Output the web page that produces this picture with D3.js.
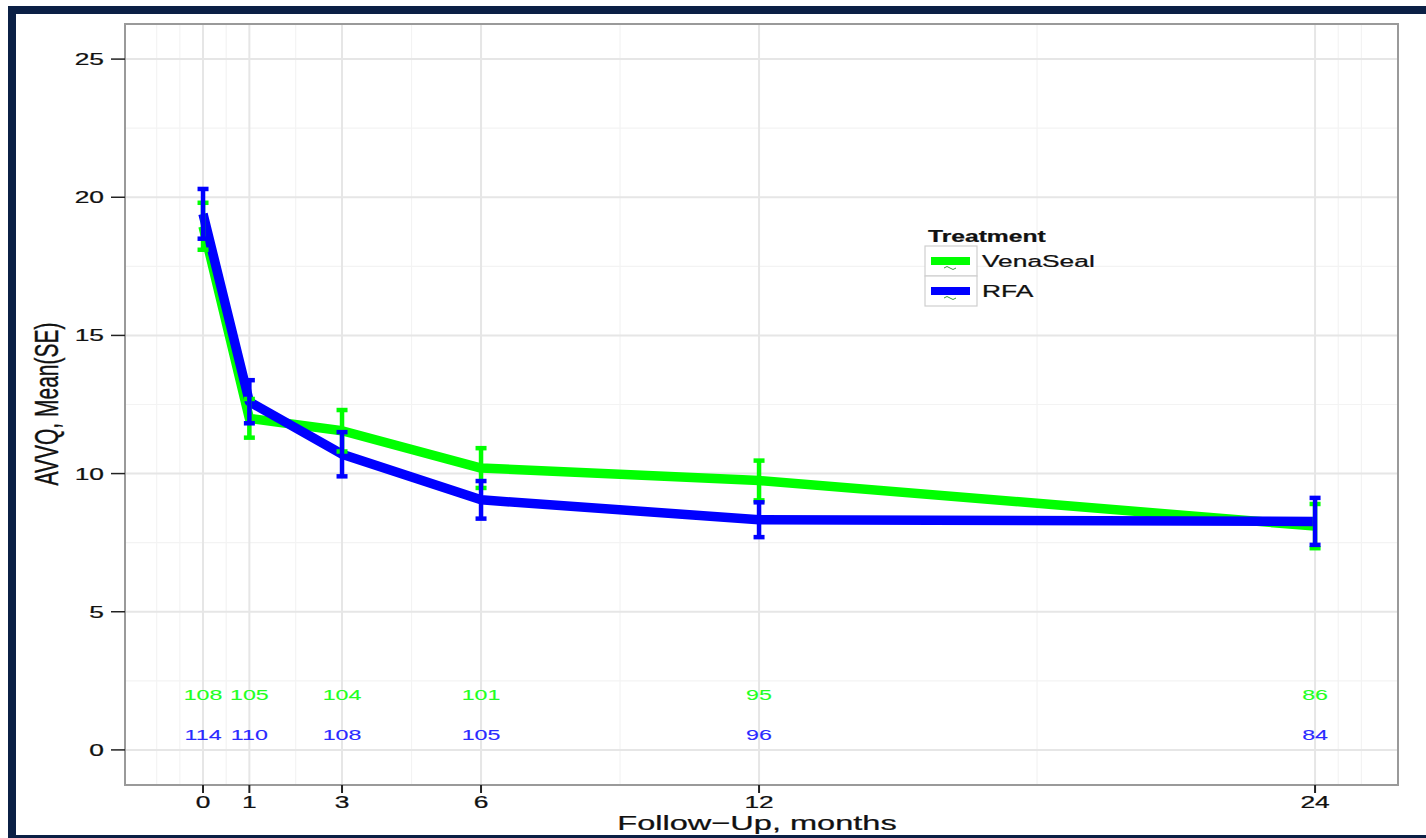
<!DOCTYPE html>
<html><head><meta charset="utf-8">
<script src="https://cdn.jsdelivr.net/npm/d3@7"></script>
<style>
body{margin:0;background:#fff;}
svg{display:block;font-family:Arial,"Liberation Sans",sans-serif;}
</style>
</head><body>
<svg id="chart" width="1426" height="838"></svg>
<script>
// ---- data ----
const months = [0, 1, 3, 6, 12, 24];
const xTickLabels = ["0", "1", "3", "6", "12", "24"];
const yTicks = [0, 5, 10, 15, 20, 25];
const treatments = ["VenaSeal", "RFA"];
const venaMean = [18.95, 12.0, 11.55, 10.2, 9.75, 8.1];
const venaSE   = [0.85, 0.7, 0.75, 0.72, 0.72, 0.8];
const rfaMean  = [19.4, 12.6, 10.7, 9.05, 8.33, 8.27];
const rfaSE    = [0.9, 0.78, 0.8, 0.68, 0.63, 0.85];
const venaN = [108, 105, 104, 101, 95, 86];
const rfaN  = [114, 110, 108, 105, 96, 84];

const colors = {VenaSeal: "#00ff00", RFA: "#0000ff"};
const nColors = {VenaSeal: "#22ff22", RFA: "#2a2aff"};
const SX = 1.55; // horizontal glyph stretch of the reference

const svg = d3.select("#chart");
const P = {l: 125, r: 1398, t: 24, b: 785};
const x = d3.scaleLinear().domain([-1.684, 25.79]).range([P.l, P.r]);
const y = d3.scaleLinear().domain([-1.27, 26.27]).range([P.b, P.t]);

// frame
const navy = "#0b2045";
svg.append("rect").attr("x", 8).attr("y", 6).attr("width", 1418).attr("height", 8).attr("fill", navy);
svg.append("rect").attr("x", 8).attr("y", 6).attr("width", 8).attr("height", 832).attr("fill", navy);
svg.append("rect").attr("x", 8).attr("y", 835).attr("width", 1418).attr("height", 3).attr("fill", navy);

// grid
const g = svg.append("g");
const minorX = [-1, -0.5, 0.5, 2, 4.5, 9, 18, 24.5, 25];
const minorY = [2.5, 7.5, 12.5, 17.5, 22.5];
g.selectAll(".mx").data(minorX).join("line")
  .attr("x1", d => x(d)).attr("x2", d => x(d)).attr("y1", P.t).attr("y2", P.b)
  .attr("stroke", "#f3f3f3").attr("stroke-width", 1.2);
g.selectAll(".my").data(minorY).join("line")
  .attr("x1", P.l).attr("x2", P.r).attr("y1", d => y(d)).attr("y2", d => y(d))
  .attr("stroke", "#f3f3f3").attr("stroke-width", 1.2);
g.selectAll(".Mx").data(months).join("line")
  .attr("x1", d => x(d)).attr("x2", d => x(d)).attr("y1", P.t).attr("y2", P.b)
  .attr("stroke", "#e6e6e6").attr("stroke-width", 2);
g.selectAll(".My").data(yTicks).join("line")
  .attr("x1", P.l).attr("x2", P.r).attr("y1", d => y(d)).attr("y2", d => y(d))
  .attr("stroke", "#e6e6e6").attr("stroke-width", 2);

// panel border
svg.append("rect").attr("x", P.l).attr("y", P.t).attr("width", P.r - P.l).attr("height", P.b - P.t)
  .attr("fill", "none").attr("stroke", "#9a9a9a").attr("stroke-width", 2);

function txt(sel, px, py, s, o = {}) {
  return sel.append("text")
    .attr("transform", `translate(${px},${py}) scale(${o.sx || SX},1)`)
    .attr("text-anchor", o.anchor || "middle")
    .attr("font-size", o.size || 17)
    .attr("font-weight", o.weight || "normal")
    .attr("fill", o.fill || "#111")
    .attr("stroke", o.fill || "#111").attr("stroke-width", o.sw == null ? 0.25 : o.sw)
    .text(s);
}

// axes ticks
const ax = svg.append("g");
months.forEach((m, i) => {
  ax.append("line").attr("x1", x(m)).attr("x2", x(m)).attr("y1", P.b).attr("y2", P.b + 8)
    .attr("stroke", "#222").attr("stroke-width", 2);
  txt(ax, x(m), 808, xTickLabels[i], {size: 17});
});
yTicks.forEach(t => {
  ax.append("line").attr("x1", P.l - 14).attr("x2", P.l).attr("y1", y(t)).attr("y2", y(t))
    .attr("stroke", "#222").attr("stroke-width", 1.5);
  txt(ax, 104, y(t) + 6, String(t), {size: 17, anchor: "end"});
});

// axis titles
txt(svg, 757, 830, "Follow\u2212Up, months", {size: 21});
svg.append("text")
  .attr("transform", `translate(58,404) rotate(-90) scale(1,${SX})`)
  .attr("text-anchor", "middle").attr("font-size", 21).attr("fill", "#111")
  .attr("stroke", "#111").attr("stroke-width", 0.25)
  .text("AVVQ, Mean(SE)");

// series
const series = [
  {name: "VenaSeal", mean: venaMean, se: venaSE, n: venaN, ny: 2.0},
  {name: "RFA", mean: rfaMean, se: rfaSE, n: rfaN, ny: 0.55}
];
const line = d3.line().x(d => x(d[0])).y(d => y(d[1]));
series.forEach(s => {
  svg.append("path").datum(months.map((m, i) => [m, s.mean[i]]))
    .attr("d", line).attr("fill", "none").attr("stroke", colors[s.name])
    .attr("stroke-width", 9.5).attr("stroke-linejoin", "round");
});
series.forEach(s => {
  const eg = svg.append("g").attr("stroke", colors[s.name]).attr("stroke-width", 4.5);
  months.forEach((m, i) => {
    const lo = s.mean[i] - s.se[i], hi = s.mean[i] + s.se[i];
    eg.append("line").attr("x1", x(m)).attr("x2", x(m)).attr("y1", y(lo)).attr("y2", y(hi));
    eg.append("line").attr("x1", x(m) - 5.5).attr("x2", x(m) + 5.5).attr("y1", y(lo)).attr("y2", y(lo));
    eg.append("line").attr("x1", x(m) - 5.5).attr("x2", x(m) + 5.5).attr("y1", y(hi)).attr("y2", y(hi));
  });
});

// n at risk labels
series.forEach(s => {
  months.forEach((m, i) => {
    txt(svg, x(m), y(s.ny) + 5, String(s.n[i]), {size: 15, fill: nColors[s.name], sw: 0.1});
  });
});

// legend
const lg = svg.append("g");
txt(lg, 928, 242, "Treatment", {size: 17, weight: "bold", anchor: "start", sx: 1.45});
treatments.forEach((t, i) => {
  const ky = 246 + i * 30;
  lg.append("rect").attr("x", 925).attr("y", ky).attr("width", 52).attr("height", 30)
    .attr("fill", "#fff").attr("stroke", "#cfcfcf").attr("stroke-width", 1.2);
  lg.append("line").attr("x1", 931).attr("x2", 970).attr("y1", ky + 15).attr("y2", ky + 15)
    .attr("stroke", colors[t]).attr("stroke-width", 8);
  lg.append("path").attr("d", `M944,${ky + 22} q3,-3 6,0 q3,3 6,0`).attr("fill", "none")
    .attr("stroke", "#3a9a3a").attr("stroke-width", 1);
  txt(lg, 982, ky + 21, t, {size: 17, anchor: "start"});
});
</script>
</body></html>
